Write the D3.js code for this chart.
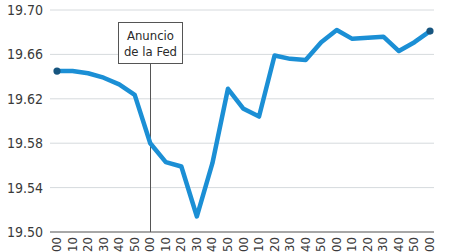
<!DOCTYPE html>
<html>
<head>
<meta charset="utf-8">
<script src="https://cdn.jsdelivr.net/npm/d3@7"></script>
<style>
  html, body { margin: 0; padding: 0; background: #fff; }
  svg { display: block; font-family: "Liberation Sans Narrow", "DejaVu Sans Condensed", "Roboto", sans-serif; }
</style>
</head>
<body>
<svg id="chart" width="449" height="252"></svg>
<script>
// horario (10 min) y tipo de cambio
const times = [
  "12:00", "12:10", "12:20", "12:30", "12:40", "12:50",
  "13:00", "13:10", "13:20", "13:30", "13:40", "13:50",
  "14:00", "14:10", "14:20", "14:30", "14:40", "14:50",
  "15:00", "15:10", "15:20", "15:30", "15:40", "15:50",
  "16:00"
];
const values = [
  19.645, 19.645, 19.643, 19.639, 19.633, 19.6235,
  19.580, 19.563, 19.559, 19.514, 19.562, 19.629,
  19.611, 19.604, 19.659, 19.656, 19.655, 19.671,
  19.682, 19.674, 19.675, 19.676, 19.663, 19.671,
  19.681
];
const yTicks = [19.50, 19.54, 19.58, 19.62, 19.66, 19.70];
const fedTime = "13:00";
const fedLabel = ["Anuncio", "de la Fed"];

const svg = d3.select("#chart");
const W = 449, H = 252;
const margin = { top: 10, right: 17, bottom: 20, left: 50 };

const x = d3.scalePoint()
  .domain(times)
  .range([57, 430]);

const y = d3.scaleLinear()
  .domain([19.50, 19.70])
  .range([H - margin.bottom, margin.top]);

// grid
svg.append("g")
  .selectAll("line")
  .data(yTicks.slice(1))
  .enter()
  .append("line")
  .attr("x1", margin.left)
  .attr("x2", W - margin.right + 2)
  .attr("y1", d => y(d))
  .attr("y2", d => y(d))
  .attr("stroke", "#d6dadd")
  .attr("stroke-width", 1);

// y labels
svg.append("g")
  .selectAll("text")
  .data(yTicks)
  .enter()
  .append("text")
  .attr("x", 43)
  .attr("y", d => y(d))
  .attr("dy", "0.35em")
  .attr("text-anchor", "end")
  .attr("font-size", 14)
  .attr("fill", "#3a3a3a")
  .text(d => d.toFixed(2));

// base axis
svg.append("line")
  .attr("x1", margin.left)
  .attr("x2", W - margin.right + 2)
  .attr("y1", y(19.50))
  .attr("y2", y(19.50))
  .attr("stroke", "#8a8a8a")
  .attr("stroke-width", 1.3);

// x labels (rotated)
svg.append("g")
  .selectAll("text")
  .data(times)
  .enter()
  .append("text")
  .attr("transform", d => `translate(${x(d) + 4},${y(19.50) + 5}) rotate(-90)`)
  .attr("text-anchor", "end")
  .attr("font-size", 13)
  .attr("fill", "#3a3a3a")
  .text(d => d);

// fed annotation
const fx = Math.round(x(fedTime)) + 0.5;
const boxW = 64, boxH = 41, boxTop = 22.5;
svg.append("line")
  .attr("x1", fx).attr("x2", fx)
  .attr("y1", boxTop + boxH)
  .attr("y2", y(19.50))
  .attr("stroke", "#555")
  .attr("stroke-width", 1);

svg.append("rect")
  .attr("x", fx - boxW / 2)
  .attr("y", boxTop)
  .attr("width", boxW)
  .attr("height", boxH)
  .attr("fill", "#fff")
  .attr("stroke", "#555")
  .attr("stroke-width", 1);

svg.append("g")
  .selectAll("text")
  .data(fedLabel)
  .enter()
  .append("text")
  .attr("x", fx)
  .attr("y", (d, i) => boxTop + 17 + i * 16)
  .attr("text-anchor", "middle")
  .attr("font-size", 13)
  .attr("fill", "#2a2a2a")
  .text(d => d);

// line
const line = d3.line()
  .x((d, i) => x(times[i]))
  .y(d => y(d));

svg.append("path")
  .datum(values)
  .attr("fill", "none")
  .attr("stroke", "#1b8fd5")
  .attr("stroke-width", 4.5)
  .attr("stroke-linejoin", "round")
  .attr("stroke-linecap", "round")
  .attr("d", line);

// end dots
const ends = [0, values.length - 1];
svg.append("g")
  .selectAll("circle")
  .data(ends)
  .enter()
  .append("circle")
  .attr("cx", i => x(times[i]))
  .attr("cy", i => y(values[i]))
  .attr("r", 3.6)
  .attr("fill", "#17557f");
</script>
</body>
</html>
